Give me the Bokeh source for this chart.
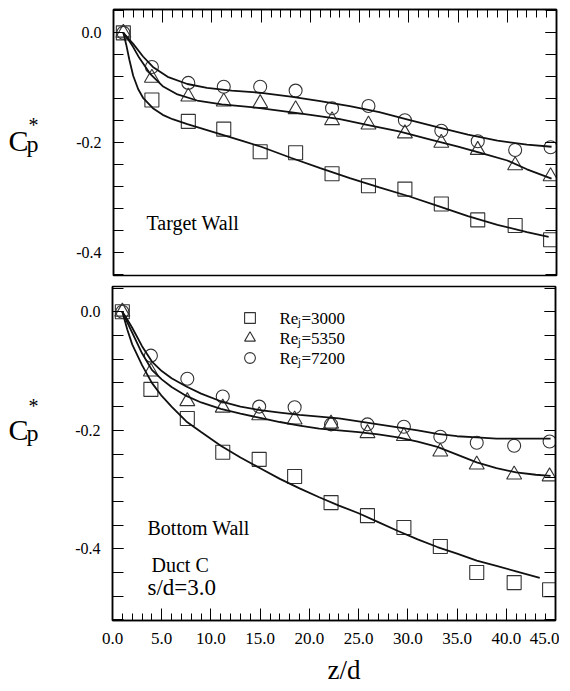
from bokeh.plotting import figure
from bokeh.layouts import column, row
from bokeh.models import (Range1d, LinearAxis, SingleIntervalTicker, PrintfTickFormatter,
                          CustomJSTickFormatter, Label, Legend, LegendItem)
from bokeh.embed import file_html
from bokeh.resources import INLINE

FONT = "Liberation Serif"

# ---------------- data ----------------
z_pts = [1.0, 3.9, 7.6, 11.2, 14.9, 18.5, 22.2, 25.9, 29.6, 33.3, 37.0, 40.8, 44.4]

# Target wall measurements
top_re3000 = [0.0, -0.122, -0.161, -0.175, -0.216, -0.218, -0.256, -0.278, -0.284, -0.311, -0.340, -0.350, -0.376]
top_re5350 = [0.0, -0.082, -0.116, -0.125, -0.128, -0.139, -0.159, -0.167, -0.183, -0.200, -0.213, -0.241, -0.261]
top_re7200 = [0.0, -0.062, -0.091, -0.098, -0.098, -0.105, -0.137, -0.133, -0.159, -0.178, -0.197, -0.213, -0.208]

# Target wall fitted curves
top_fit3000_z = [1.0, 1.3, 1.6, 2.0, 2.5, 3.0, 4.0, 5.0, 6.0, 7.5, 9.0, 11.0, 13.0, 15.0, 18.0, 21.0, 24.0,
                 27.0, 30.0, 33.0, 36.0, 39.0, 42.0, 44.2]
top_fit3000 = [0.0, -0.022, -0.048, -0.078, -0.102, -0.118, -0.137, -0.149, -0.157, -0.166, -0.174, -0.185,
               -0.196, -0.207, -0.227, -0.246, -0.264, -0.281, -0.297, -0.315, -0.333, -0.349, -0.362, -0.371]
top_fit5350_z = [1.0, 1.5, 2.0, 2.6, 3.7, 5.0, 6.5, 8.5, 11.0, 14.0, 17.0, 20.0, 23.0, 26.0, 29.0, 32.0,
                 35.0, 38.0, 40.0, 42.0, 44.5]
top_fit5350 = [0.0, -0.012, -0.026, -0.045, -0.074, -0.097, -0.112, -0.123, -0.130, -0.135, -0.142, -0.149,
               -0.157, -0.168, -0.179, -0.193, -0.207, -0.222, -0.232, -0.248, -0.265]
top_fit7200_z = [1.0, 1.5, 2.0, 3.0, 4.0, 5.5, 7.5, 9.5, 12.0, 15.0, 18.0, 21.0, 24.0, 27.0, 30.0, 33.0,
                 36.0, 39.0, 42.0, 44.5]
top_fit7200 = [0.0, -0.010, -0.020, -0.043, -0.062, -0.080, -0.093, -0.100, -0.105, -0.109, -0.116, -0.124,
               -0.133, -0.144, -0.158, -0.172, -0.185, -0.196, -0.203, -0.207]

# Bottom wall measurements
bot_re3000 = [0.0, -0.131, -0.180, -0.237, -0.249, -0.278, -0.322, -0.344, -0.364, -0.396, -0.440, -0.457, -0.469]
bot_re5350 = [0.0, -0.101, -0.151, -0.162, -0.175, -0.182, -0.189, -0.205, -0.210, -0.236, -0.258, -0.275, -0.278]
bot_re7200 = [0.0, -0.074, -0.113, -0.143, -0.160, -0.161, -0.190, -0.190, -0.194, -0.211, -0.221, -0.226, -0.219]

# Bottom wall fitted curves
bot_fit3000_z = [1.0, 1.5, 2.0, 3.0, 4.0, 5.0, 6.0, 7.5, 9.0, 11.0, 13.0, 15.0, 17.0, 19.0, 21.0, 23.0, 25.0,
                 27.0, 29.0, 31.0, 33.0, 35.0, 37.0, 39.0, 41.0, 43.4]
bot_fit3000 = [0.0, -0.030, -0.055, -0.090, -0.120, -0.142, -0.160, -0.185, -0.203, -0.226, -0.246, -0.264,
               -0.282, -0.298, -0.313, -0.327, -0.340, -0.355, -0.370, -0.384, -0.397, -0.408, -0.420, -0.429,
               -0.438, -0.449]
bot_fit5350_z = [1.0, 1.5, 2.0, 3.0, 4.0, 5.0, 6.0, 7.5, 9.0, 11.0, 13.0, 15.0, 17.0, 19.0, 21.0, 23.0, 25.0,
                 27.0, 29.0, 31.0, 33.0, 35.0, 37.0, 39.0, 41.0, 43.0, 44.5]
bot_fit5350 = [0.0, -0.018, -0.035, -0.070, -0.098, -0.114, -0.127, -0.142, -0.153, -0.164, -0.172, -0.179,
               -0.186, -0.192, -0.197, -0.200, -0.203, -0.207, -0.212, -0.219, -0.228, -0.241, -0.254, -0.264,
               -0.271, -0.275, -0.277]
bot_fit7200_z = [1.0, 1.5, 2.0, 3.0, 4.0, 5.0, 6.0, 7.5, 9.0, 11.0, 13.0, 15.0, 17.0, 19.0, 21.0, 23.0, 25.0,
                 27.0, 29.0, 31.0, 33.0, 35.0, 37.0, 39.0, 41.0, 44.5]
bot_fit7200 = [0.0, -0.013, -0.027, -0.058, -0.084, -0.100, -0.112, -0.126, -0.138, -0.151, -0.160, -0.166,
               -0.170, -0.174, -0.177, -0.180, -0.185, -0.190, -0.195, -0.200, -0.206, -0.210, -0.212, -0.214,
               -0.214, -0.214]

legend_labels = ["Re\u2c7c=3000", "Re\u2c7c=5350", "Re\u2c7c=7200"]
x_ticks_interval = 5
y_ticks_interval = 0.2

# ---------------- styling helpers ----------------
MARK_COLOR = "#333333"
LINE_COLOR = "#111111"
LAB_W = 44          # width of the strip that holds the C_p* labels
MID = 0.3375        # baseline sits this many em below the middle of the text box


def style_axis(ax, ticker, formatter, tick_in, minor_in, label_size, standoff):
    ax.ticker = ticker
    ax.formatter = formatter
    ax.axis_line_color = "black"
    ax.axis_line_width = 1.5
    ax.major_tick_line_color = "black"
    ax.minor_tick_line_color = "black"
    ax.major_tick_line_width = 1
    ax.minor_tick_line_width = 1
    ax.major_tick_in = tick_in
    ax.major_tick_out = 0
    ax.minor_tick_in = minor_in
    ax.minor_tick_out = 0
    ax.major_label_text_font = FONT
    ax.major_label_text_font_size = label_size
    ax.major_label_text_color = "black"
    ax.major_label_standoff = standoff


def blank():
    return CustomJSTickFormatter(code="return ''")


def make_fig(ymin, ymax, left, top, bottom, fh, x_loc):
    p = figure(title=None, frame_width=443, frame_height=fh, x_range=Range1d(0, 45),
               y_range=Range1d(ymin, ymax), x_axis_location=x_loc, toolbar_location=None,
               output_backend="svg", min_border_left=left, min_border_right=4, min_border_top=top,
               min_border_bottom=bottom, background_fill_color="white", border_fill_color="white")
    p.grid.visible = False
    p.outline_line_color = "black"
    p.outline_line_width = 1.5
    return p


def text_strip(w, h):
    p = figure(title=None, frame_width=w, frame_height=h, x_range=Range1d(0, 1), y_range=Range1d(0, 1),
               x_axis_location=None, y_axis_location=None, toolbar_location=None, output_backend="svg",
               min_border_left=0, min_border_right=0, min_border_top=0, min_border_bottom=0,
               outline_line_color=None, background_fill_color="white", border_fill_color="white")
    p.grid.visible = False
    return p


def text(p, s, sx, base, size):
    """base = wanted baseline height (px) above the frame bottom"""
    p.add_layout(Label(x=sx, y=base + MID * size, x_units="screen", y_units="screen", text=s,
                       text_font=FONT, text_font_size=f"{size}px", text_color="black",
                       text_baseline="middle", text_align="left"))


def series(p, y3000, y5350, y7200, f3000, f5350, f7200):
    r1 = p.scatter(z_pts, y3000, marker="square", size=14, fill_alpha=0, line_color=MARK_COLOR, line_width=1.1)
    r2 = p.scatter(z_pts, y5350, marker="triangle", size=15, fill_alpha=0, line_color=MARK_COLOR, line_width=1.1)
    r3 = p.scatter(z_pts, y7200, marker="circle", size=13, fill_alpha=0, line_color=MARK_COLOR, line_width=1.1)
    for zz, yy in (f3000, f5350, f7200):
        p.line(zz, yy, line_color=LINE_COLOR, line_width=1.8)
    return r1, r2, r3


# ---------------- top panel: target wall ----------------
TOP_H = 9 + 266 + 5
pt = make_fig(-0.441, 0.0424, 113 - LAB_W, 9, 5, 266, "above")
style_axis(pt.xaxis[0], SingleIntervalTicker(interval=x_ticks_interval, num_minor_ticks=5), blank(),
           13, 8, "1px", 0)
style_axis(pt.yaxis[0], SingleIntervalTicker(interval=y_ticks_interval, num_minor_ticks=5),
           PrintfTickFormatter(format="%.1f"), 10, 10, "16px", 12)
yr = LinearAxis()
style_axis(yr, SingleIntervalTicker(interval=y_ticks_interval, num_minor_ticks=5), blank(), 11, 11, "1px", 0)
pt.add_layout(yr, "right")

series(pt, top_re3000, top_re5350, top_re7200,
       (top_fit3000_z, top_fit3000), (top_fit5350_z, top_fit5350), (top_fit7200_z, top_fit7200))
text(pt, "Target Wall", 33, 46, 20)

lt = text_strip(LAB_W, TOP_H)
text(lt, "C", 8, 139, 30)
text(lt, "p", 26, 137, 24)
text(lt, "*", 28, 158, 20)

# ---------------- bottom panel: bottom wall ----------------
BOT_H = 6 + 334 + 36
pb = make_fig(-0.521, 0.0427, 112 - LAB_W, 6, 36, 334, "below")
style_axis(pb.xaxis[0], SingleIntervalTicker(interval=x_ticks_interval, num_minor_ticks=5),
           PrintfTickFormatter(format="%.1f"), 12, 7, "17px", 12)
style_axis(pb.yaxis[0], SingleIntervalTicker(interval=y_ticks_interval, num_minor_ticks=5),
           PrintfTickFormatter(format="%.1f"), 11, 11, "16px", 12)
ybr = LinearAxis()
style_axis(ybr, SingleIntervalTicker(interval=y_ticks_interval, num_minor_ticks=5), blank(), 11, 11, "1px", 0)
pb.add_layout(ybr, "right")

rb = series(pb, bot_re3000, bot_re5350, bot_re7200,
            (bot_fit3000_z, bot_fit3000), (bot_fit5350_z, bot_fit5350), (bot_fit7200_z, bot_fit7200))

# one legend entry per row so that the rows can sit 20 px apart with full-size markers
for i, (lab, r) in enumerate(zip(legend_labels, rb)):
    lg = Legend(items=[LegendItem(label=lab, renderers=[r])],
                location=(123.5, 289.5 - 20 * i), orientation="vertical",
                glyph_width=27, glyph_height=27, label_height=20, label_standoff=17,
                padding=0, margin=0, border_line_alpha=0, background_fill_alpha=0,
                label_text_font=FONT, label_text_font_size="17px", label_text_color="black",
                label_text_baseline="middle")
    pb.add_layout(lg)

text(pb, "Bottom Wall", 35, 86, 20)
text(pb, "Duct C", 39, 49, 20)
text(pb, "s/d=3.0", 35, 25, 23)

lb = text_strip(LAB_W, BOT_H)
text(lb, "C", 8, 223, 30)
text(lb, "p", 26, 221, 24)
text(lb, "*", 28, 250, 20)

# ---------------- x axis title strip ----------------
ZD_H = 30
zd = text_strip(112 + 443 + 4, ZD_H)
text(zd, "z/d", 327, 7, 27)

layout = column(row(lt, pt), row(lb, pb), zd)
open("out.html", "w").write(file_html(layout, INLINE))
